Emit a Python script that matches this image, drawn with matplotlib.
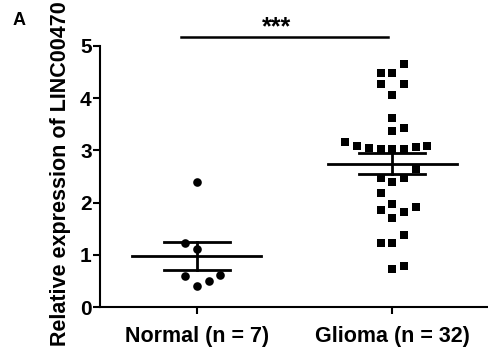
import matplotlib.pyplot as plt
import numpy as np

plt.rcParams['font.family'] = ['Liberation Sans', 'DejaVu Sans']
plt.rcParams['font.weight'] = 'bold'

groups = ['Normal (n = 7)', 'Glioma (n = 32)']
normal = [2.39, 1.23, 1.11, 0.59, 0.40, 0.50, 0.61]
glioma = [4.66, 4.48, 4.48, 4.27, 4.27, 4.06, 3.62, 3.37, 3.43,
          3.16, 3.08, 3.05, 3.03, 3.03, 3.03, 3.07, 3.08, 2.64,
          2.47, 2.40, 2.47, 2.18, 1.86, 1.97, 1.82, 1.92, 1.70,
          1.38, 1.23, 1.23, 0.73, 0.79]

# horizontal column index of each dot (scatter layout)
normal_col = [0, -1, 0, -1, 0, 1, 2]
glioma_col = [1, -1, 0, -1, 1, 0, 0, 0, 1, -4, -3, -2, -1, 0, 1, 2, 3, 2,
              -1, 0, 1, -1, -1, 0, 1, 2, 0, 1, -1, 0, 0, 1]
step = 0.06

fig = plt.figure(figsize=(4.88, 3.56), dpi=100)
ax = fig.add_axes([0.205, 0.1376, 0.795, 0.7332])

for i, (vals, cols, mk, ms) in enumerate([(normal, normal_col, 'o', 6.2),
                                          (glioma, glioma_col, 's', 5.6)]):
    vals = np.array(vals)
    x = i + np.array(cols) * step
    ax.plot(x, vals, mk, color='black', ms=ms, mew=0, clip_on=False, zorder=3)
    m = vals.mean()
    sem = vals.std(ddof=1) / np.sqrt(len(vals))
    ax.plot([i - 0.33, i + 0.33], [m, m], color='black', lw=2.0, zorder=2)
    for y in (m - sem, m + sem):
        ax.plot([i - 0.17, i + 0.17], [y, y], color='black', lw=2.0, zorder=2)
    ax.plot([i, i], [m - sem, m + sem], color='black', lw=2.0, zorder=2)

# significance bar
ax.plot([-0.08, 0.98], [5.17, 5.17], color='black', lw=1.8, clip_on=False)
ax.text(0.41, 5.12, '***', ha='center', va='bottom', fontsize=18,
        fontweight='bold')

ax.set_xlim(-0.495, 1.49)
ax.set_ylim(0, 5)
ax.set_xticks([0, 1])
ax.set_xticklabels(groups, fontsize=15.5, fontweight='bold')
ax.set_yticks(range(6))
ax.tick_params(axis='y', labelsize=15, width=1.5, length=5, pad=1)
ax.tick_params(axis='x', width=1.5, length=5, pad=9)
for lab in ax.get_yticklabels():
    lab.set_fontweight('bold')
ax.set_ylabel('Relative expression of LINC00470', fontsize=15.5,
              fontweight='bold')
ax.yaxis.set_label_coords(-0.075, 0.51)
for s in ['top', 'right']:
    ax.spines[s].set_visible(False)
for s in ['left', 'bottom']:
    ax.spines[s].set_linewidth(1.5)

fig.text(0.025, 0.93, 'A', fontsize=13, fontweight='bold')

plt.savefig('out.png', dpi=100)
